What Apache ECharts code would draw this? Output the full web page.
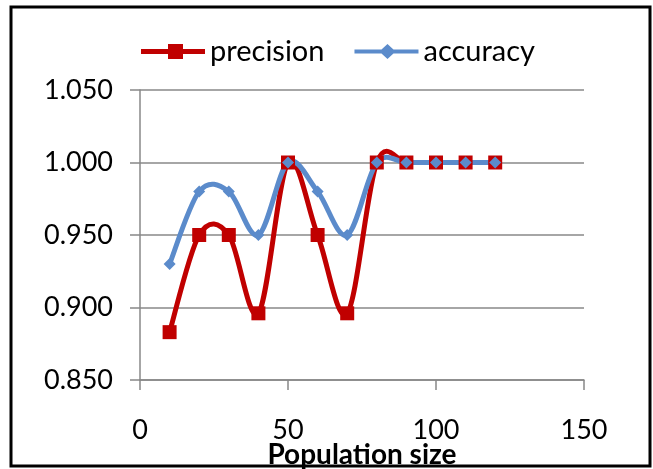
<!DOCTYPE html>
<html><head><meta charset="utf-8">
<script src="https://cdn.jsdelivr.net/npm/echarts@6/dist/echarts.min.js"></script>
<style>html,body{margin:0;padding:0;background:#fff}#c{width:653px;height:469px}</style>
</head><body><div id="c"></div>
<script>
const popSizes = [10, 20, 30, 40, 50, 60, 70, 80, 90, 100, 110, 120];
const precision = [0.883, 0.950, 0.950, 0.896, 1.000, 0.950, 0.896, 1.000, 1.000, 1.000, 1.000, 1.000];
const accuracy = [0.930, 0.980, 0.980, 0.950, 1.000, 0.980, 0.950, 1.000, 1.000, 1.000, 1.000, 1.000];
const xTicks = [0, 50, 100, 150];
const yTicks = [0.85, 0.9, 0.95, 1.0, 1.05];

const RED = '#C00000', BLUE = '#5B8BCB', GRID = '#888888';
const FONT = 'Lato';

// Smoothed (Catmull-Rom style, like spreadsheet "smoothed line") segment between data points i and i+1,
// drawn in pixel space from the axes' own coordinate conversion.
function smoothRenderer(values, color) {
  return function (params, api) {
    const i = params.dataIndex, n = values.length;
    if (i >= n - 1) return null;
    const pt = k => api.coord([popSizes[Math.max(0, Math.min(n - 1, k))], values[Math.max(0, Math.min(n - 1, k))]]);
    const p0 = pt(i - 1), p1 = pt(i), p2 = pt(i + 1), p3 = pt(i + 2);
    const t = 1 / 6;
    return {
      type: 'bezierCurve',
      shape: {
        x1: p1[0], y1: p1[1], x2: p2[0], y2: p2[1],
        cpx1: p1[0] + (p2[0] - p0[0]) * t, cpy1: p1[1] + (p2[1] - p0[1]) * t,
        cpx2: p2[0] - (p3[0] - p1[0]) * t, cpy2: p2[1] - (p3[1] - p1[1]) * t
      },
      style: {stroke: color, lineWidth: 5, fill: null, lineCap: 'round', lineJoin: 'round'}
    };
  };
}

const chart = echarts.init(document.getElementById('c'), null, {renderer: 'canvas'});
chart.setOption({
  animation: false,
  graphic: [{type: 'rect', shape: {x: 11, y: 7, width: 639, height: 459}, style: {fill: 'none', stroke: '#000', lineWidth: 3}, silent: true, z: 100}],
  legend: {
    top: 32, left: 136, itemWidth: 64, itemHeight: 15, itemGap: 30,
    textStyle: {fontFamily: FONT, fontSize: 29, color: '#000', padding: [0, 0, 0, 0]},
    data: [
      {name: 'precision', icon: 'path://M0,5L27,5L27,0L42,0L42,5L64,5L64,10L42,10L42,15L27,15L27,10L0,10Z', itemStyle: {color: RED}},
      {name: 'accuracy', icon: 'path://M0,5.5L27,5.5L33,0L39,5.5L64,5.5L64,9.5L39,9.5L33,15L27,9.5L0,9.5Z', itemStyle: {color: BLUE}}
    ]
  },
  grid: {left: 140, top: 90, width: 444, height: 290, containLabel: false, outerBoundsMode: 'none'},
  xAxis: {
    type: 'value', min: xTicks[0], max: xTicks[xTicks.length - 1], interval: 50,
    name: 'Population size', nameLocation: 'middle', nameGap: 61, nameMoveOverlap: false,
    nameTextStyle: {fontFamily: FONT, fontSize: 28, fontWeight: 'bold', color: '#000'},
    axisLine: {show: true, lineStyle: {color: GRID, width: 1.5}},
    axisTick: {show: true, length: 10, inside: false, lineStyle: {color: GRID, width: 1.5}},
    axisLabel: {fontFamily: FONT, fontSize: 27, color: '#000', margin: 37},
    splitLine: {show: false}
  },
  yAxis: {
    type: 'value', min: yTicks[0], max: yTicks[yTicks.length - 1], interval: 0.05,
    axisLine: {show: true, lineStyle: {color: GRID, width: 1.5}},
    axisTick: {show: true, length: 10, lineStyle: {color: GRID, width: 1.5}},
    axisLabel: {fontFamily: FONT, fontSize: 27, color: '#000', margin: 27, formatter: v => v.toFixed(3)},
    splitLine: {show: true, lineStyle: {color: GRID, width: 1.5}}
  },
  series: [
    {
      name: 'precision', type: 'custom', renderItem: smoothRenderer(precision, RED),
      data: popSizes.map((x, i) => [x, precision[i]]), encode: {x: 0, y: 1}, clip: false, itemStyle: {color: RED}
    },
    {
      name: 'precision', type: 'line',
      data: popSizes.map((x, i) => [x, precision[i]]),
      symbol: 'rect', symbolSize: 14, showSymbol: true,
      lineStyle: {opacity: 0, width: 0},
      itemStyle: {color: RED}
    },
    {
      name: 'accuracy', type: 'custom', renderItem: smoothRenderer(accuracy, BLUE),
      data: popSizes.map((x, i) => [x, accuracy[i]]), encode: {x: 0, y: 1}, clip: false, itemStyle: {color: BLUE}
    },
    {
      name: 'accuracy', type: 'line',
      data: popSizes.map((x, i) => [x, accuracy[i]]),
      symbol: 'diamond', symbolSize: 12, showSymbol: true,
      lineStyle: {opacity: 0, width: 0},
      itemStyle: {color: BLUE}
    }
  ]
});
</script></body></html>
